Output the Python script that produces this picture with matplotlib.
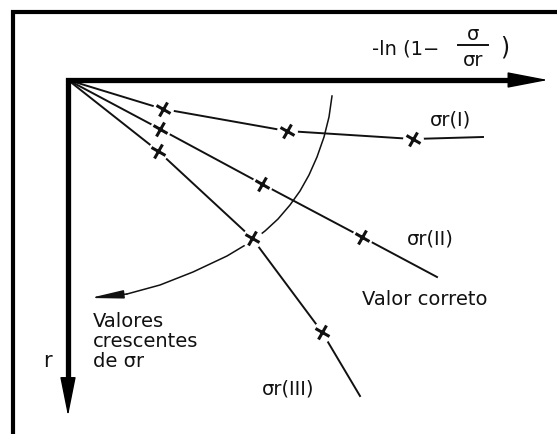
import matplotlib
matplotlib.use("Agg")
import matplotlib.pyplot as plt
from matplotlib.markers import MarkerStyle
from matplotlib.transforms import Affine2D

# Horizontal coordinate: -ln(1 - sigma/sigma_r); vertical coordinate: r (grows downward).
# Arbitrary diagram units, origin where the two axes meet.
curve_I_u = [0.00, 0.95, 2.19, 3.45, 4.15]
curve_I_r = [0.00, 0.29, 0.51, 0.59, 0.57]

curve_II_u = [0.00, 0.92, 1.94, 2.94, 3.69]
curve_II_r = [0.00, 0.49, 1.04, 1.57, 1.97]

curve_III_u = [0.00, 0.90, 1.84, 2.54, 2.92]
curve_III_r = [0.00, 0.71, 1.58, 2.52, 3.16]

# measured points (x marks) are the interior points of every curve
marked = slice(1, 4)

# arc joining the straightest points, pointing toward increasing sigma_r
arc_u = [2.64, 2.61, 2.56, 2.49, 2.41, 2.32, 2.22, 2.10, 1.97, 1.84,
         1.59, 1.25, 0.92, 0.59, 0.22]
arc_r = [0.16, 0.37, 0.57, 0.77, 0.95, 1.11, 1.25, 1.39, 1.51, 1.61,
         1.76, 1.92, 2.05, 2.14, 2.18]

curve_labels = ["σr(I)", "σr(II)", "σr(III)"]
axis_u_end = 4.80
axis_r_end = 3.36

INK = "#111111"
FONT = "DejaVu Sans"

fig = plt.figure(figsize=(5.57, 4.35), dpi=100)
ax = fig.add_axes([0, 0, 1, 1])
ax.set_xlim(-0.68, 4.89)
ax.set_ylim(3.54, -0.81)
ax.axis("off")

# outer frame (top and left edges)
ax.plot([0.0233, 0.0233, 1.0], [0.0, 0.9701, 0.9701], transform=ax.transAxes,
        color="black", lw=3.0, solid_joinstyle="miter", clip_on=False)

# axes
ax.plot([axis_u_end - 0.35, 0, 0], [0, 0, axis_r_end - 0.35], color="black",
        lw=3.8, solid_joinstyle="miter", solid_capstyle="butt", zorder=5)
ax.annotate("", xy=(axis_u_end, 0), xytext=(axis_u_end - 0.42, 0),
            arrowprops=dict(arrowstyle="-|>,head_length=2.6,head_width=0.5",
                            color="black", lw=1, shrinkA=0, shrinkB=0), zorder=5)
ax.annotate("", xy=(0, axis_r_end), xytext=(0, axis_r_end - 0.40),
            arrowprops=dict(arrowstyle="-|>,head_length=2.5,head_width=0.5",
                            color="black", lw=1, shrinkA=0, shrinkB=0), zorder=5)

# curves
for u, r in [(curve_I_u, curve_I_r), (curve_II_u, curve_II_r), (curve_III_u, curve_III_r)]:
    ax.plot(u, r, color=INK, lw=1.4, zorder=2)

# arc with arrow toward increasing sigma_r
ax.plot(arc_u[:-1], arc_r[:-1], color=INK, lw=1.1, zorder=2,
        solid_joinstyle="round")
ax.annotate("", xy=(arc_u[-1], arc_r[-1]), xytext=(arc_u[-2], arc_r[-2]),
            arrowprops=dict(arrowstyle="-|>,head_length=2.0,head_width=0.25",
                            color=INK, lw=1.1, shrinkA=0, shrinkB=0), zorder=2)

# x marks with a small white gap around them
xmark = MarkerStyle("x", transform=Affine2D().rotate_deg(18))
for u, r in [(curve_I_u, curve_I_r), (curve_II_u, curve_II_r), (curve_III_u, curve_III_r)]:
    ax.plot(u[marked], r[marked], linestyle="none", marker="o", ms=15,
            mfc="white", mec="none", zorder=3)
    ax.plot(u[marked], r[marked], linestyle="none", marker=xmark, ms=8.5,
            mew=2.2, color=INK, zorder=4)

txt = dict(fontsize=14, family=FONT, color=INK)

# axis titles
ax.text(3.04, -0.26, "-ln (1−", ha="left", va="baseline", **txt)
ax.text(4.05, -0.41, "σ", ha="center", va="baseline", **txt)
ax.plot([3.90, 4.20], [-0.35, -0.35], color=INK, lw=1.4)
ax.text(4.05, -0.15, "σr", ha="center", va="baseline", **txt)
ax.text(4.32, -0.26, ")", ha="left", va="baseline", fontsize=17, family=FONT, color=INK)
ax.text(-0.21, 2.86, "r", ha="center", va="baseline", fontsize=15, family=FONT, color=INK)

# curve labels
ax.text(3.62, 0.45, curve_labels[0], ha="left", va="baseline", **txt)
ax.text(3.39, 1.64, curve_labels[1], ha="left", va="baseline", **txt)
ax.text(1.94, 3.14, curve_labels[2], ha="left", va="baseline", **txt)

ax.text(2.94, 2.24, "Valor correto", ha="left", va="baseline", **txt)
ax.text(0.25, 2.31, "Valores\ncrescentes\nde σr", ha="left", va="top",
        linespacing=1.08, **txt)

fig.savefig("out.png", dpi=100, facecolor="white")
